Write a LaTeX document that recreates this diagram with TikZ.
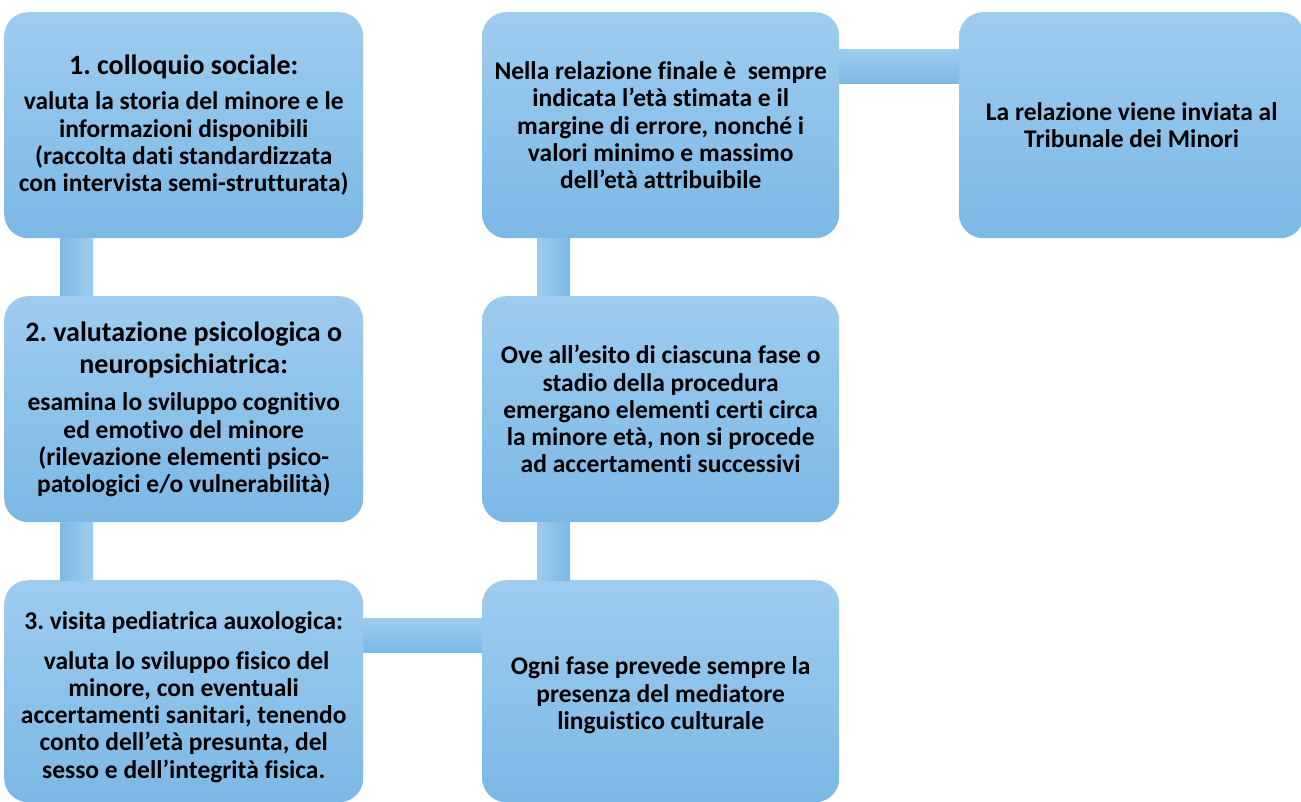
\documentclass[tikz,border=0pt]{standalone}
\usepackage{fontspec}
\setmainfont{Carlito}[BoldFont={Carlito Bold},Ligatures=NoCommon]
\definecolor{boxtop}{RGB}{158,204,239}
\definecolor{boxbot}{RGB}{124,184,229}
\frenchspacing
\begin{document}
\begin{tikzpicture}[x=1pt,y=-1pt,
  box/.style={anchor=north west, rounded corners=24pt, top color=boxtop, bottom color=boxbot,
    draw=none, align=center, inner sep=0pt, font=\bfseries\fontsize{25.5}{27.3}\selectfont},
  vbar/.style={left color=boxbot!90!boxtop, right color=boxtop},
  vbarb/.style={left color=boxtop, right color=boxbot},
  hbar/.style={top color=boxtop, bottom color=boxbot}]
\useasboundingbox (0,0) rectangle (1301,802);
\newcommand{\ttl}[1]{{\fontsize{28}{29}\selectfont #1}}
\path
  (4,12) node[box, minimum width=359pt, minimum height=226pt] (b1)
    {\ttl{1. colloquio sociale:}\\[8pt]
     valuta la storia del minore e le\\
     informazioni disponibili\\
     (raccolta dati standardizzata\\
     con intervista semi-strutturata)}
  (4,296) node[box, minimum width=359pt, minimum height=226pt] (b2)
    {\ttl{2. valutazione psicologica o}\\[5pt]
     \ttl{neuropsichiatrica:}\\[10pt]
     esamina lo sviluppo cognitivo\\
     ed emotivo del minore\\
     (rilevazione elementi psico-\\
     patologici e/o vulnerabilità)}
  (4,580) node[box, minimum width=359pt, minimum height=222pt] (b3)
    {\rule{0pt}{30pt}3. visita pediatrica auxologica:\\[12pt]
     \ valuta lo sviluppo fisico del\\
     minore, con eventuali\\
     accertamenti sanitari, tenendo\\
     conto dell’età presunta, del\\
     sesso e dell’integrità fisica.}
  (482,580) node[box, minimum width=357pt, minimum height=222pt] (b4)
    {\rule{0pt}{26pt}Ogni fase prevede sempre la\\
     presenza del mediatore\\
     linguistico culturale}
  (482,296) node[box, minimum width=357pt, minimum height=226pt] (b5)
    {Ove all’esito di ciascuna fase o\\
     stadio della procedura\\
     emergano elementi certi circa\\
     la minore età, non si procede\\
     ad accertamenti successivi}
  (482,12) node[box, minimum width=357pt, minimum height=226pt] (b6)
    {Nella relazione finale è \ sempre\\
     indicata l’età stimata e il\\
     margine di errore, nonché i\\
     valori minimo e massimo\\
     dell’età attribuibile}
  (959,12) node[box, minimum width=345pt, minimum height=226pt] (b7)
    {La relazione viene inviata al\\
     Tribunale dei Minori};
% connectors
\shade[vbar] ([xshift=56pt]b1.south west) rectangle ([xshift=89pt]b2.north west);
\shade[vbar] ([xshift=56pt]b2.south west) rectangle ([xshift=89pt]b3.north west);
\shade[hbar] ([yshift=-38pt]b3.north east) rectangle ([yshift=-72pt]b4.north west);
\shade[vbarb] ([xshift=55pt]b4.north west) rectangle ([xshift=88pt]b5.south west);
\shade[vbarb] ([xshift=55pt]b5.north west) rectangle ([xshift=88pt]b6.south west);
\shade[hbar] ([yshift=-38pt]b6.north east) rectangle ([yshift=-72pt]b7.north west);
\end{tikzpicture}
\end{document}
